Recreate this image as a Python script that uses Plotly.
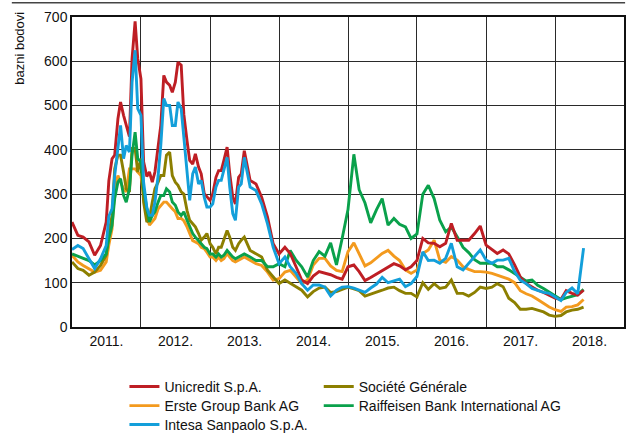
import plotly.graph_objects as go
import pandas as pd

# observation dates: monthly, semi-monthly during Jul 2011 - Jun 2013, monthly again to Jun 2018
d_a = pd.date_range("2011-01-01", "2011-06-01", freq="MS")
d_b_start = pd.date_range("2011-07-01", "2013-06-01", freq="MS")
d_b = d_b_start.union(d_b_start + pd.Timedelta(days=14))
d_c = pd.date_range("2013-07-01", "2018-06-01", freq="MS")
dates = [d.strftime("%Y-%m-%d") for d in list(d_a) + list(d_b) + list(d_c)]

unicredit = [237, 207, 203, 192, 162, 184,
             237, 330, 380, 388, 470, 508, 478, 455, 430, 606, 690, 606, 560, 373, 340, 350, 327, 350, 410, 455,
             568, 553, 546, 530, 553, 598, 591, 480, 420, 376, 368, 391, 361, 346, 301, 293, 286, 301, 338, 353,
             353, 376, 406, 346, 293, 278, 338, 346,
             398, 331, 323, 293, 248, 188, 165, 180, 166, 136, 106, 98, 115, 125, 122, 118, 112, 108, 136, 140,
             125, 105, 112, 120, 128, 136, 143, 138, 129, 136, 150, 200, 190, 189, 181, 189, 234, 196, 196, 196,
             211, 228, 185, 174, 166, 174, 165, 140, 113, 98, 91, 83, 78, 72, 65, 62, 82, 76, 72, 83]
intesa = [175, 184, 177, 154, 132, 154,
          184, 250, 267, 342, 403, 455, 380, 410, 395, 553, 625, 493, 478, 327, 270, 252, 252, 282, 342, 410,
          516, 500, 500, 455, 455, 508, 493, 430, 340, 286, 346, 361, 323, 331, 293, 271, 271, 278, 316, 331,
          331, 353, 383, 316, 256, 241, 316, 323,
          383, 316, 308, 278, 233, 180, 143, 158, 136, 121, 98, 83, 95, 95, 90, 70, 83, 90, 91, 88,
          84, 78, 88, 97, 112, 100, 104, 108, 91, 98, 114, 170, 150, 151, 144, 155, 189, 136, 129, 144,
          160, 174, 151, 144, 151, 151, 155, 125, 106, 98, 87, 83, 78, 76, 68, 60, 78, 88, 75, 178]
erste = [162, 147, 139, 132, 124, 128,
         147, 185, 222, 312, 342, 327, 312, 305, 357, 357, 357, 350, 342, 297, 252, 230, 237, 245, 267, 275,
         282, 282, 275, 267, 260, 245, 245, 240, 226, 211, 195, 192, 188, 180, 177, 169, 158, 158, 150, 158,
         150, 154, 166, 158, 150, 147, 150, 154,
         158, 150, 143, 139, 124, 106, 109, 124, 128, 113, 98, 106, 140, 155, 155, 138, 128, 125, 170, 190,
         165, 138, 145, 155, 166, 173, 160, 150, 129, 121, 129, 166, 174, 196, 151, 146, 159, 151, 136, 130,
         125, 125, 124, 121, 117, 112, 108, 100, 82, 75, 70, 62, 53, 45, 39, 35, 45, 46, 50, 62]
raiffeisen = [165, 160, 155, 150, 140, 150,
              165, 200, 230, 290, 327, 335, 297, 282, 312, 388, 440, 380, 373, 312, 267, 237, 252, 260, 282, 297,
              297, 312, 305, 282, 275, 260, 252, 260, 241, 226, 211, 203, 196, 188, 180, 177, 165, 165, 158, 165,
              158, 162, 173, 166, 158, 154, 158, 162,
              165, 158, 150, 150, 136, 136, 143, 136, 173, 151, 136, 113, 150, 170, 160, 190, 140, 200, 265, 390,
              310, 280, 235, 265, 290, 230, 245, 232, 226, 200, 210, 300, 320, 290, 241, 215, 226, 204, 180, 168,
              152, 144, 144, 144, 136, 136, 129, 120, 112, 104, 106, 94, 87, 79, 70, 62, 66, 70, 73, 85]
socgen = [147, 132, 128, 117, 124, 139,
          162, 210, 252, 357, 388, 388, 350, 312, 305, 403, 403, 350, 380, 282, 237, 245, 282, 312, 327, 342,
          342, 388, 395, 342, 327, 320, 305, 300, 263, 241, 233, 226, 211, 196, 203, 211, 188, 180, 165, 180,
          180, 196, 218, 203, 180, 173, 188, 196,
          203, 173, 165, 158, 128, 113, 98, 106, 98, 91, 83, 68, 80, 88, 90, 78, 80, 85, 90, 86,
          82, 70, 74, 78, 83, 88, 90, 82, 76, 76, 68, 100, 85, 98, 87, 90, 106, 76, 76, 70,
          78, 90, 87, 90, 98, 91, 65, 55, 40, 40, 42, 38, 34, 27, 24, 26, 34, 38, 40, 45]

y_ticks = [0, 100, 200, 300, 400, 500, 600, 700]

# (name, values, colour, legend id) in drawing order
series = [
    ("Erste Group Bank AG", erste, "#F39A1E", "legend2"),
    ("Société Générale", socgen, "#8C7F00", "legend4"),
    ("Raiffeisen Bank International AG", raiffeisen, "#0AA14B", "legend5"),
    ("Unicredit S.p.A.", unicredit, "#BE1E24", "legend"),
    ("Intesa Sanpaolo S.p.A.", intesa, "#139FDA", "legend3"),
]

FONT = "Liberation Sans, Arial, sans-serif"

fig = go.Figure()
for name, vals, col, leg in series:
    fig.add_trace(go.Scatter(x=dates, y=vals, mode="lines", name=name, legend=leg,
                             line=dict(color=col, width=2.9)))


def leg_box(x, y):
    return dict(orientation="v", x=x, xanchor="left", y=y, yanchor="middle",
                font=dict(size=14, family=FONT, color="#111"), tracegroupgap=0,
                itemwidth=30, bgcolor="rgba(0,0,0,0)")


fig.update_layout(
    width=626, height=434,
    margin=dict(l=72, r=2, t=17, b=107, autoexpand=False),
    paper_bgcolor="white", plot_bgcolor="white",
    font=dict(family=FONT, size=14, color="#111"),
    showlegend=True,
    legend=leg_box(0.095, -0.193),
    legend2=leg_box(0.095, -0.255),
    legend3=leg_box(0.095, -0.316),
    legend4=leg_box(0.447, -0.193),
    legend5=leg_box(0.447, -0.255),
    xaxis=dict(type="date", range=["2011-01-01", "2019-01-01"], tick0="2011-01-01", dtick="M12",
               ticklabelmode="period", tickformat="%Y.", showgrid=True, gridcolor="#2a2a2a",
               gridwidth=1, showline=True, linecolor="#111", linewidth=1.5, mirror=True,
               ticks="", zeroline=False, automargin=False, tickfont=dict(size=14)),
    yaxis=dict(range=[0, 700], tickvals=y_ticks, showgrid=True, gridcolor="#2a2a2a", gridwidth=1,
               showline=True, linecolor="#111", linewidth=1.5, mirror=True, ticks="",
               zeroline=False, automargin=False, tickfont=dict(size=14)),
    annotations=[dict(text="bazni bodovi", xref="paper", yref="paper", x=-0.094, y=1.022,
                      xanchor="center", yanchor="top", textangle=-90, showarrow=False,
                      font=dict(size=13, family=FONT))],
    shapes=[dict(type="line", xref="paper", yref="paper", x0=-0.109, x1=1.002, y0=1.046, y1=1.046,
                 line=dict(color="#444", width=1.5))],
)

fig.write_html("out.html", config={"displayModeBar": False},
               post_script="document.body.style.margin='0';")
